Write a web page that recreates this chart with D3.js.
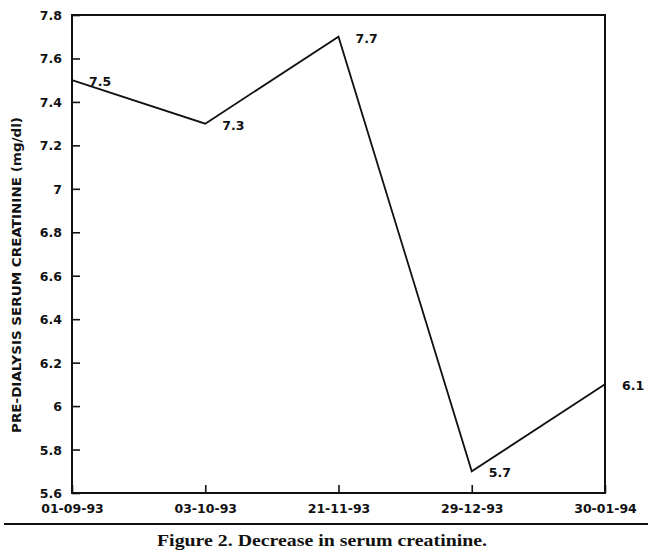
<!DOCTYPE html>
<html>
<head>
<meta charset="utf-8">
<script src="https://cdn.jsdelivr.net/npm/d3@7"></script>
<style>
  body { margin: 0; background: #fff; }
  svg { display: block; }
</style>
</head>
<body>
<div id="chart"></div>
<script>
// data
var dates = ["01-09-93", "03-10-93", "21-11-93", "29-12-93", "30-01-94"];
var creatinine = [7.5, 7.3, 7.7, 5.7, 6.1];
var yTicks = [5.6, 5.8, 6, 6.2, 6.4, 6.6, 6.8, 7, 7.2, 7.4, 7.6, 7.8];

var W = 650, H = 554;
var margin = {top: 15, right: 45, bottom: 61, left: 72};
var width = W - margin.left - margin.right,
    height = H - margin.top - margin.bottom;

var svg = d3.select("#chart")
    .append("svg")
    .attr("width", W)
    .attr("height", H);

var g = svg.append("g")
    .attr("transform", `translate(${margin.left}, ${margin.top})`);

var x = d3.scalePoint()
    .domain(dates)
    .range([0, width])
    .padding(0);

var y = d3.scaleLinear()
    .domain([5.6, 7.8])
    .range([height, 0]);

var tickFont = "bold 12.5px 'DejaVu Sans', sans-serif";

// frame
g.append("rect")
    .attr("x", 0)
    .attr("y", 0)
    .attr("width", width)
    .attr("height", height)
    .attr("fill", "none")
    .attr("stroke", "#111")
    .attr("stroke-width", 2);

// Y axis, ticks pointing into the plot
var yAxis = g.append("g")
    .call(d3.axisRight(y).tickValues(yTicks).tickSize(8).tickFormat(d3.format("")));
yAxis.select(".domain").remove();
yAxis.selectAll("line").attr("stroke", "#111").attr("stroke-width", 1.6);
yAxis.selectAll("text")
    .attr("x", -10)
    .attr("dy", "0.36em")
    .style("text-anchor", "end")
    .style("font", tickFont)
    .attr("fill", "#111");

// X axis, ticks pointing up
var xAxis = g.append("g")
    .attr("transform", `translate(0, ${height})`)
    .call(d3.axisTop(x).tickSize(8));
xAxis.select(".domain").remove();
xAxis.selectAll("line").attr("stroke", "#111").attr("stroke-width", 1.6);
xAxis.selectAll("text")
    .attr("y", 20)
    .attr("dy", "0")
    .style("text-anchor", "middle")
    .style("font", tickFont)
    .attr("fill", "#111");

// line
var line = d3.line()
    .x((d, i) => x(dates[i]))
    .y(d => y(d));

g.append("path")
    .datum(creatinine)
    .attr("d", line)
    .attr("fill", "none")
    .attr("stroke", "#111")
    .attr("stroke-width", 1.8)
    .attr("stroke-linejoin", "miter");

// value labels
g.append("g").selectAll("text")
    .data(creatinine)
    .enter()
    .append("text")
    .attr("x", (d, i) => x(dates[i]) + 17)
    .attr("y", d => y(d) + 6)
    .style("font", "bold 12.5px 'DejaVu Sans', sans-serif")
    .attr("fill", "#111")
    .text(d => d);

// y axis label
svg.append("text")
    .attr("transform", `translate(21, 275) rotate(-90)`)
    .style("text-anchor", "middle")
    .style("font", "bold 12px 'DejaVu Sans', sans-serif")
    .attr("textLength", 316)
    .attr("lengthAdjust", "spacingAndGlyphs")
    .attr("fill", "#111")
    .text("PRE-DIALYSIS SERUM CREATININE (mg/dl)");

// rule under the chart
svg.append("line")
    .attr("x1", 4)
    .attr("x2", 648)
    .attr("y1", 524)
    .attr("y2", 524)
    .attr("stroke", "#111")
    .attr("stroke-width", 2);

// caption
svg.append("text")
    .attr("x", 322)
    .attr("y", 546)
    .style("text-anchor", "middle")
    .style("font", "bold 16.5px 'Liberation Serif', serif")
    .attr("textLength", 330)
    .attr("lengthAdjust", "spacingAndGlyphs")
    .attr("fill", "#111")
    .text("Figure 2. Decrease in serum creatinine.");
</script>
</body>
</html>
